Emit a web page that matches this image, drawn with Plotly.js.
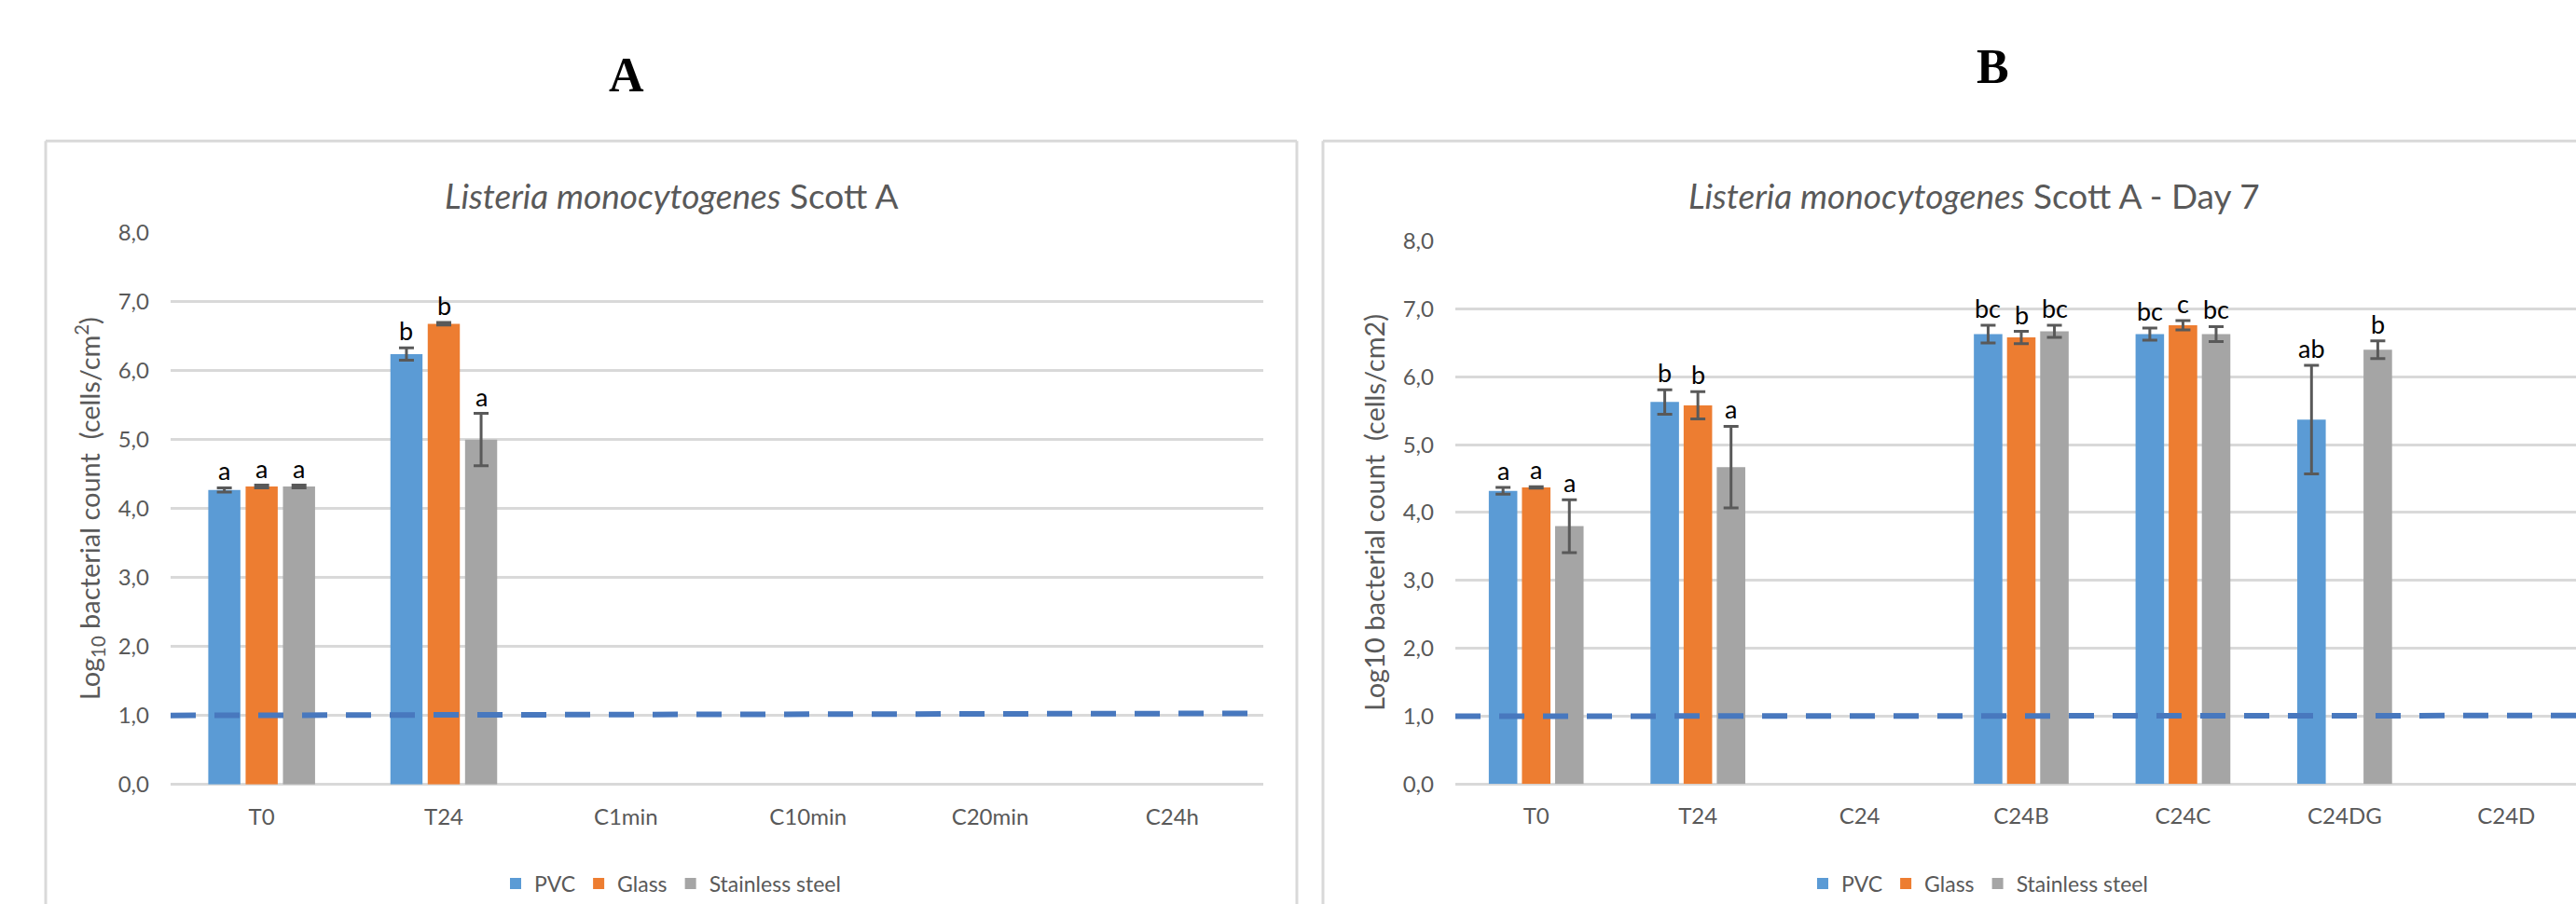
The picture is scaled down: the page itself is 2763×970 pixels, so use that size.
<!DOCTYPE html>
<html>
<head>
<meta charset="utf-8">
<script src="https://cdn.plot.ly/plotly-3.0.1.min.js"></script>
<style>
html,body{margin:0;padding:0;background:#fff;overflow:hidden;}
#chart{width:2800px;height:970px;}
</style>
</head>
<body>
<div id="chart"></div>
<script>
// ---------- DATA ----------
const seriesNames = ['PVC', 'Glass', 'Stainless steel'];

// Panel A
const categoriesA = ['T0', 'T24', 'C1min', 'C10min', 'C20min', 'C24h'];
const pvcA      = [4.27, 6.24, null, null, null, null];
const pvcErrA   = [0.03, 0.09, null, null, null, null];
const glassA    = [4.32, 6.68, null, null, null, null];
const glassErrA = [0.02, 0.02, null, null, null, null];
const steelA    = [4.32, 5.00, null, null, null, null];
const steelErrA = [0.02, 0.38, null, null, null, null];
const pvcLettersA   = ['a', 'b', null, null, null, null];
const glassLettersA = ['a', 'b', null, null, null, null];
const steelLettersA = ['a', 'a', null, null, null, null];
const limitA = [1.00, 1.03];

// Panel B
const categoriesB = ['T0', 'T24', 'C24', 'C24B', 'C24C', 'C24DG', 'C24D'];
const pvcB      = [4.32, 5.63, null, 6.63, 6.63, 5.37, null];
const pvcErrB   = [0.05, 0.18, null, 0.13, 0.09, 0.80, null];
const glassB    = [4.37, 5.58, null, 6.58, 6.76, null, null];
const glassErrB = [0.01, 0.20, null, 0.09, 0.07, null, null];
const steelB    = [3.80, 4.67, null, 6.67, 6.63, 6.40, null];
const steelErrB = [0.39, 0.60, null, 0.09, 0.11, 0.13, null];
const pvcLettersB   = ['a', 'b', null, 'bc', 'bc', 'ab', null];
const glassLettersB = ['a', 'b', null, 'b', 'c', null, null];
const steelLettersB = ['a', 'a', null, 'bc', 'bc', 'b', null];
const limitB = [1.00, 1.01];

const titleA = '<i>Listeria monocytogenes</i> Scott A';
const titleB = '<i>Listeria monocytogenes</i> Scott A - Day 7';
const yTitleA = 'Log<sub>10</sub> bacterial count \u00a0(cells/cm<sup>2</sup>)';
const yTitleB = 'Log10 bacterial count \u00a0(cells/cm2)';

// ---------- STYLE ----------
const colors = ['#5B9BD5', '#ED7D31', '#A5A5A5'];
const FONT = 'Lato, "Liberation Sans", Arial, sans-serif';
const W = 2800, H = 970;
const px = v => v / W;
const py = v => (H - v) / H;
const BARGAP = 0.385;
const GROUPGAP = 0.14;

function barTrace(name, cats, vals, errs, color, xa, ya, legend, show) {
  return {
    type: 'bar', name: name, x: cats, y: vals,
    xaxis: xa, yaxis: ya, legend: legend, showlegend: show,
    marker: {color: color, line: {width: 0}},
    error_y: {type: 'data', array: errs, visible: true, color: '#595959', thickness: 3, width: 8},
    hoverinfo: 'x+y+name'
  };
}

const traces = [
  barTrace(seriesNames[0], categoriesA, pvcA, pvcErrA, colors[0], 'x', 'y', 'legend', true),
  barTrace(seriesNames[1], categoriesA, glassA, glassErrA, colors[1], 'x', 'y', 'legend', true),
  barTrace(seriesNames[2], categoriesA, steelA, steelErrA, colors[2], 'x', 'y', 'legend', true),
  barTrace(seriesNames[0], categoriesB, pvcB, pvcErrB, colors[0], 'x2', 'y2', 'legend2', true),
  barTrace(seriesNames[1], categoriesB, glassB, glassErrB, colors[1], 'x2', 'y2', 'legend2', true),
  barTrace(seriesNames[2], categoriesB, steelB, steelErrB, colors[2], 'x2', 'y2', 'legend2', true)
];

// letter annotations above error bars
const annotations = [];
function addLetters(letterSets, valSets, errSets, xa, ya) {
  const slot = (1 - BARGAP) / 3;
  letterSets.forEach((letters, s) => {
    letters.forEach((L, i) => {
      if (!L) return;
      annotations.push({
        xref: xa, yref: ya, x: i + (s - 1) * slot, y: valSets[s][i] + (errSets[s][i] || 0),
        text: L, showarrow: false, yanchor: 'bottom', xanchor: 'center', yshift: 0,
        font: {family: FONT, size: 27, color: '#000000'}
      });
    });
  });
}
addLetters([pvcLettersA, glassLettersA, steelLettersA], [pvcA, glassA, steelA], [pvcErrA, glassErrA, steelErrA], 'x', 'y');
addLetters([pvcLettersB, glassLettersB, steelLettersB], [pvcB, glassB, steelB], [pvcErrB, glassErrB, steelErrB], 'x2', 'y2');

// chart titles and panel labels
annotations.push(
  {xref: 'paper', yref: 'paper', x: px(720), y: py(211), text: titleA, showarrow: false,
   xanchor: 'center', yanchor: 'middle', font: {family: FONT, size: 37, color: '#595959'}},
  {xref: 'paper', yref: 'paper', x: px(2117), y: py(211), text: titleB, showarrow: false,
   xanchor: 'center', yanchor: 'middle', font: {family: FONT, size: 37, color: '#595959'}},
  {xref: 'paper', yref: 'paper', x: px(672), y: py(81), text: '<b>A</b>', showarrow: false,
   xanchor: 'center', yanchor: 'middle', font: {family: '"Liberation Serif", serif', size: 52, color: '#000'}},
  {xref: 'paper', yref: 'paper', x: px(2137), y: py(72), text: '<b>B</b>', showarrow: false,
   xanchor: 'center', yanchor: 'middle', font: {family: '"Liberation Serif", serif', size: 52, color: '#000'}}
);

const frameLine = {color: '#D9D9D9', width: 3};
const dashLine = {color: '#4878BE', width: 6, dash: '27px,20px'};
const shapes = [
  // chart-area frames
  {type: 'line', xref: 'paper', yref: 'paper', x0: px(49), x1: px(49), y0: py(152), y1: -0.1, line: frameLine},
  {type: 'line', xref: 'paper', yref: 'paper', x0: px(49), x1: px(1391), y0: py(152), y1: py(152), line: frameLine},
  {type: 'line', xref: 'paper', yref: 'paper', x0: px(1391), x1: px(1391), y0: py(152), y1: -0.1, line: frameLine},
  {type: 'line', xref: 'paper', yref: 'paper', x0: px(1419), x1: px(1419), y0: py(152), y1: -0.1, line: frameLine},
  {type: 'line', xref: 'paper', yref: 'paper', x0: px(1419), x1: 1.1, y0: py(152), y1: py(152), line: frameLine},
  // detection-limit dashed lines
  {type: 'line', xref: 'x domain', yref: 'y', x0: 0, x1: 1, y0: limitA[0], y1: limitA[1], line: dashLine, layer: 'above'},
  {type: 'line', xref: 'x2 domain', yref: 'y2', x0: 0, x1: 1, y0: limitB[0], y1: limitB[1], line: dashLine, layer: 'above'}
];

const tickFont = {family: FONT, size: 24, color: '#595959'};
function yAxis(domain, title, anchor) {
  return {
    domain: domain, anchor: anchor, range: [0, 8], dtick: 1, tick0: 0, tickformat: '.1f',
    showgrid: true, gridcolor: '#D9D9D9', gridwidth: 3,
    zeroline: true, zerolinecolor: '#D9D9D9', zerolinewidth: 3,
    showline: false, ticks: '', tickfont: tickFont, ticklabelstandoff: 22,
    title: {text: title, font: {family: FONT, size: 29, color: '#595959'}, standoff: 10},
    fixedrange: true
  };
}
function xAxis(domain, anchor) {
  return {
    domain: domain, anchor: anchor, type: 'category', showgrid: false, zeroline: false,
    showline: false, ticks: '', tickfont: tickFont, ticklabelstandoff: 18, fixedrange: true
  };
}

const legendFont = {family: FONT, size: 23, color: '#595959'};
const layout = {
  width: W, height: H, autosize: false,
  margin: {l: 0, r: 0, t: 0, b: 0, pad: 0},
  paper_bgcolor: '#ffffff', plot_bgcolor: 'rgba(0,0,0,0)',
  separators: ', ',
  barmode: 'group', bargap: BARGAP, bargroupgap: GROUPGAP,
  font: {family: FONT, color: '#595959'},
  xaxis: xAxis([px(183), px(1355)], 'y'),
  yaxis: yAxis([py(846), py(251)], yTitleA, 'x'),
  xaxis2: xAxis([px(1561), px(2775)], 'y2'),
  yaxis2: yAxis([py(845.7), py(260)], yTitleB, 'x2'),
  legend: {orientation: 'h', x: px(720), y: py(953), xanchor: 'center', yanchor: 'middle',
           font: legendFont, bgcolor: 'rgba(0,0,0,0)', itemclick: false, itemdoubleclick: false},
  legend2: {orientation: 'h', x: px(2122), y: py(953), xanchor: 'center', yanchor: 'middle',
            font: legendFont, bgcolor: 'rgba(0,0,0,0)', itemclick: false, itemdoubleclick: false},
  annotations: annotations,
  shapes: shapes
};

Plotly.newPlot('chart', traces, layout, {displayModeBar: false, staticPlot: true});
</script>
</body>
</html>
